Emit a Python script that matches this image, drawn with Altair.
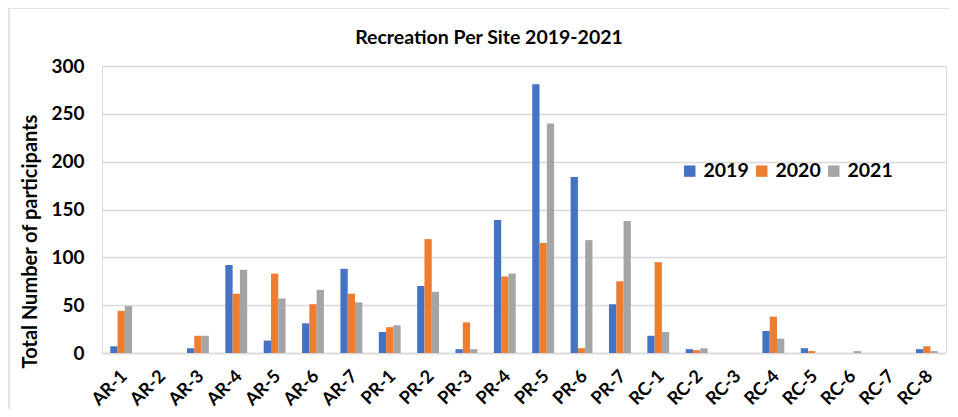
import altair as alt
import pandas as pd

sites = ["AR-1", "AR-2", "AR-3", "AR-4", "AR-5", "AR-6", "AR-7",
         "PR-1", "PR-2", "PR-3", "PR-4", "PR-5", "PR-6", "PR-7",
         "RC-1", "RC-2", "RC-3", "RC-4", "RC-5", "RC-6", "RC-7", "RC-8"]
years = ["2019", "2020", "2021"]
v2019 = [7, 0, 5, 92, 13, 31, 88, 22, 70, 4, 139, 281, 184, 51, 18, 4, 0, 23, 5, 0, 0, 4]
v2020 = [44, 0, 18, 62, 83, 51, 62, 27, 119, 32, 80, 115, 5, 75, 95, 3, 0, 38, 2, 0, 0, 7]
v2021 = [49, 0, 18, 87, 57, 66, 53, 29, 64, 4, 83, 240, 118, 138, 22, 5, 0, 15, 0, 2, 0, 2]
colors = ["#4472C4", "#ED7D31", "#A5A5A5"]
title_text = "Recreation Per Site 2019-2021"

rows = []
for yr, vals in zip(years, [v2019, v2020, v2021]):
    for s, v in zip(sites, vals):
        rows.append({"site": s, "year": yr, "value": v})
df = pd.DataFrame(rows)

FONT = "Lato"

bars = alt.Chart(df).mark_bar().encode(
    x=alt.X("site:N", sort=sites, title=None,
            scale=alt.Scale(paddingInner=0.43, paddingOuter=0.215),
            axis=alt.Axis(labelAngle=-45, labelAlign="right", labelBaseline="top",
                          labelFont=FONT, labelFontSize=18, labelFontWeight="bold",
                          labelColor="#000000", labelPadding=14,
                          ticks=False, domainColor="#d9d9d9", domainWidth=1.5,
                          labelOffset=-3)),
    xOffset=alt.XOffset("year:N", sort=years, scale=alt.Scale(paddingInner=0, paddingOuter=0)),
    y=alt.Y("value:Q", title="Total Number of participants",
            scale=alt.Scale(domain=[0, 300], nice=False),
            axis=alt.Axis(values=[0, 50, 100, 150, 200, 250, 300], ticks=False, domain=False,
                          gridColor="#d9d9d9", gridWidth=1.5,
                          labelFont=FONT, labelFontSize=19, labelFontWeight="bold",
                          labelColor="#000000", labelPadding=18,
                          titleFont=FONT, titleFontSize=20, titleFontWeight="bold",
                          titleColor="#000000", titleX=-72, titleY=175,
                          titleAlign="center", titleBaseline="middle", titleAngle=-90)),
    color=alt.Color("year:N", sort=years,
                    scale=alt.Scale(domain=years, range=colors),
                    legend=alt.Legend(title=None, orient="none", legendX=578, legendY=95,
                                      direction="horizontal", symbolType="square",
                                      symbolSize=130, symbolStrokeWidth=0,
                                      labelFont=FONT, labelFontSize=19.5, labelFontWeight="bold",
                                      labelColor="#000000", labelOffset=4, columnPadding=3)),
)

frame = alt.Chart(pd.DataFrame({"a": [0]})).mark_rect(
    fill=None, stroke="#d9d9d9", strokeWidth=1.5
).encode(x=alt.value(-93), x2=alt.value(870), y=alt.value(-58), y2=alt.value(400))

title = alt.Chart(pd.DataFrame({"t": [title_text]})).mark_text(
    font=FONT, fontSize=19.5, fontWeight="bold", color="#000000", baseline="middle", align="center"
).encode(text="t:N", x=alt.value(387), y=alt.value(-28))

chart = alt.layer(frame, bars, title).properties(
    width=844, height=287,
    autosize=alt.AutoSizeParams(type="none"),
    padding={"left": 94, "top": 58, "right": 4, "bottom": 56},
).configure_view(stroke=None).configure(background="white")

chart.save("out.html", embed_options={"renderer": "svg", "actions": False})
